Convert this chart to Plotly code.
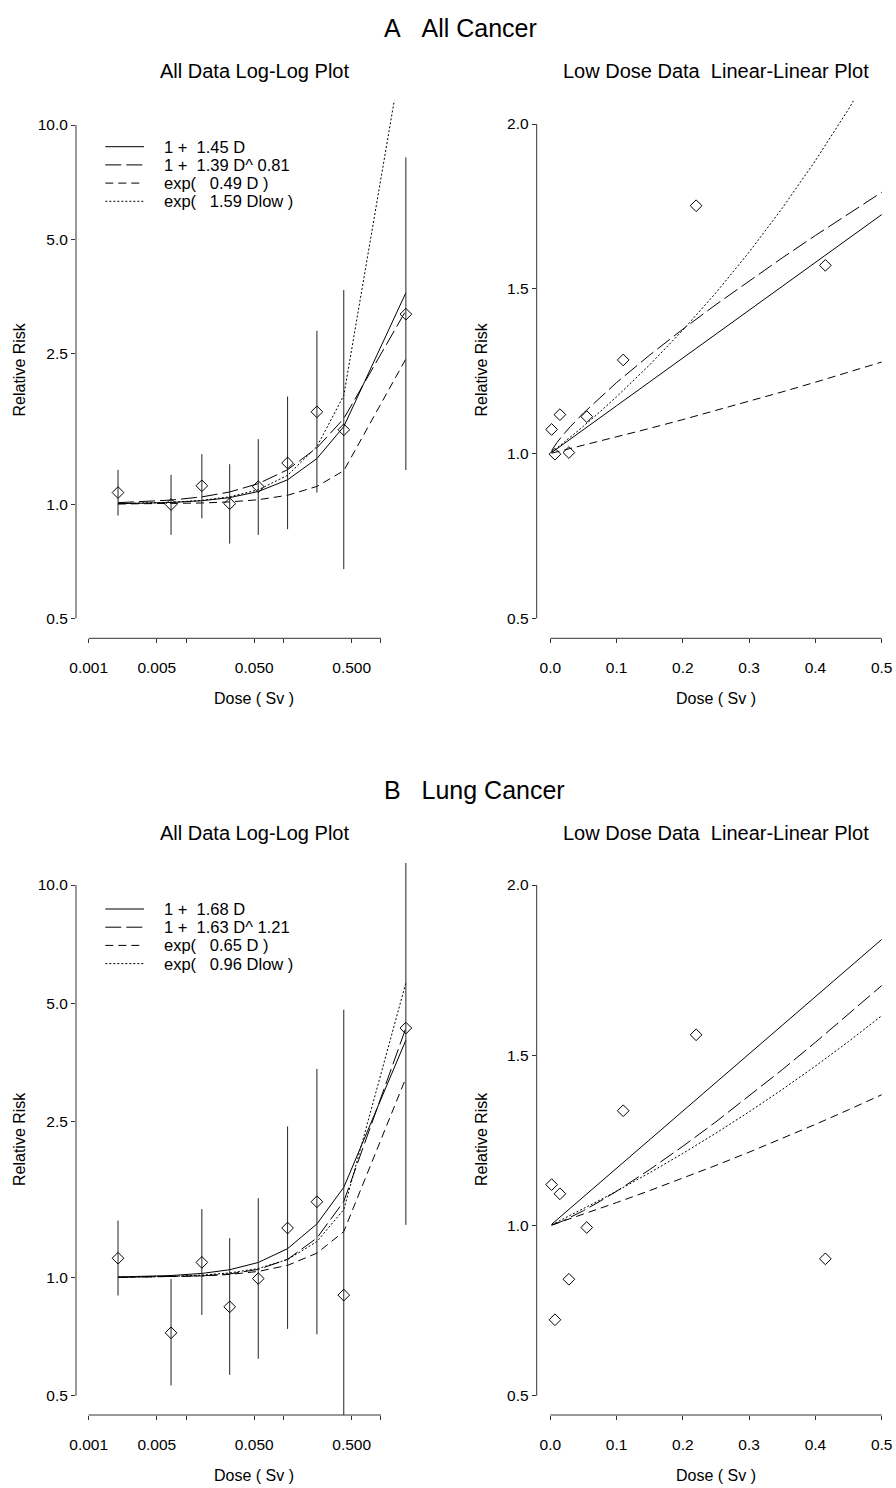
import math
import plotly.graph_objects as go

# ---------------- data ----------------
dose = [0.002, 0.007, 0.0145, 0.028, 0.055, 0.11, 0.22, 0.415, 1.8]

a_rr = [1.073, 0.998, 1.118, 1.003, 1.112, 1.284, 1.752, 1.571, 3.17]
a_lo = [0.933, 0.830, 0.918, 0.787, 0.830, 0.859, 1.073, 0.674, 1.23]
a_hi = [1.232, 1.195, 1.355, 1.275, 1.484, 1.923, 2.866, 3.67, 8.21]

b_rr = [1.12, 0.723, 1.093, 0.842, 0.994, 1.337, 1.56, 0.902, 4.32]
b_lo = [0.900, 0.531, 0.803, 0.565, 0.621, 0.740, 0.717, 0.40, 1.362]
b_hi = [1.397, 0.991, 1.494, 1.26, 1.593, 2.425, 3.40, 4.81, 11.4]

# fitted curves read at the data doses (log-log panels)
a_lin_all = [1.0029, 1.0102, 1.0210, 1.0406, 1.0798, 1.1595, 1.3190, 1.6018, 3.6100]
a_pow_all = [1.0091, 1.0250, 1.0451, 1.0768, 1.1326, 1.2326, 1.4077, 1.6818, 3.2376]
a_exp_all = [1.0010, 1.0034, 1.0071, 1.0138, 1.0273, 1.0554, 1.1138, 1.2255, 2.4157]
a_explow_all = [1.0032, 1.0112, 1.0233, 1.0455, 1.0914, 1.1911, 1.4188, 1.9345, 17.497]

b_lin_all = [1.0034, 1.0118, 1.0244, 1.0470, 1.0924, 1.1848, 1.3696, 1.6972, 4.0240]
b_pow_all = [1.0009, 1.0040, 1.0097, 1.0215, 1.0488, 1.1128, 1.2609, 1.5624, 4.3196]
b_exp_all = [1.0013, 1.0046, 1.0095, 1.0184, 1.0364, 1.0741, 1.1537, 1.3095, 3.2220]
b_explow_all = [1.0019, 1.0067, 1.0140, 1.0273, 1.0542, 1.1113, 1.2350, 1.4895, 5.6295]

# fitted curves over the low-dose range (linear-linear panels)
low_dose = [0.002, 0.005, 0.01, 0.02, 0.03, 0.05, 0.075, 0.1, 0.15, 0.2,
            0.25, 0.3, 0.35, 0.4, 0.45, 0.5]
a_lin_low = [1.0029, 1.0073, 1.0145, 1.029, 1.0435, 1.0725, 1.1088, 1.145, 1.2175,
             1.29, 1.3625, 1.435, 1.5075, 1.58, 1.6525, 1.725]
a_pow_low = [1.0091, 1.0190, 1.0333, 1.0585, 1.0812, 1.1228, 1.1705, 1.2153, 1.2990,
             1.3774, 1.4522, 1.5242, 1.5939, 1.6617, 1.7280, 1.7928]
a_exp_low = [1.0010, 1.0025, 1.0049, 1.0099, 1.0148, 1.0248, 1.0374, 1.0502, 1.0763,
             1.1030, 1.1303, 1.1584, 1.1871, 1.2165, 1.2467, 1.2776]
a_explow_low = [1.0032, 1.0080, 1.0160, 1.0323, 1.0489, 1.0828, 1.1267, 1.1723, 1.2694,
                1.3744, 1.4881, 1.6112, 1.7446, 1.8889, 2.0452, 2.2144]

b_lin_low = [1.0034, 1.0084, 1.0168, 1.0336, 1.0504, 1.084, 1.126, 1.168, 1.252,
             1.336, 1.42, 1.504, 1.588, 1.672, 1.756, 1.84]
b_pow_low = [1.0009, 1.0027, 1.0062, 1.0143, 1.0234, 1.0434, 1.0710, 1.1005, 1.1642,
             1.2325, 1.3046, 1.3798, 1.4576, 1.5379, 1.6203, 1.7046]
b_exp_low = [1.0013, 1.0033, 1.0065, 1.0131, 1.0197, 1.0330, 1.0500, 1.0672, 1.1024,
             1.1388, 1.1765, 1.2153, 1.2555, 1.2969, 1.3398, 1.3840]
b_explow_low = [1.0019, 1.0048, 1.0097, 1.0194, 1.0292, 1.0492, 1.0747, 1.1008, 1.1549,
                1.2117, 1.2713, 1.3338, 1.3994, 1.4681, 1.5403, 1.6161]

a_legend = ["1 +  1.45 D", "1 +  1.39 D^ 0.81", "exp(   0.49 D )", "exp(   1.59 Dlow )"]
b_legend = ["1 +  1.68 D", "1 +  1.63 D^ 1.21", "exp(   0.65 D )", "exp(   0.96 Dlow )"]

log_xticks = [0.001, 0.005, 0.01, 0.05, 0.1, 0.5, 1.0]
log_xtext = ["0.001", "0.005", "", "0.050", "", "0.500", ""]
log_yticks = [0.5, 1.0, 2.5, 5.0, 10.0]
log_ytext = ["0.5", "1.0", "2.5", "5.0", "10.0"]
lin_xticks = [0.0, 0.1, 0.2, 0.3, 0.4, 0.5]
lin_xtext = ["0.0", "0.1", "0.2", "0.3", "0.4", "0.5"]
lin_yticks = [0.5, 1.0, 1.5, 2.0]
lin_ytext = ["0.5", "1.0", "1.5", "2.0"]

# ---------------- layout geometry (pixels) ----------------
W, H = 896, 1488
FONT = "Liberation Sans, Arial, Helvetica, sans-serif"
INK = "black"
AXC = "#333333"

def px(x):
    return x / W

def py(y):
    return 1 - y / H

L_LEFT, L_RIGHT = 76.0, 432.0          # log-log panel region
R_LEFT, R_RIGHT = 536.7, 896.0         # linear panel region
X_LOG_0001, X_LOG_PER_DEC = 88.7, 97.43
X_LIN_0, X_LIN_PER_UNIT = 550.3, 662.8

panels = {
    "A": dict(top=100.7, bottom=638.3, y10=125.0, y05l=618.3, y2=124.0, y05r=618.3),
    "B": dict(top=863.0, bottom=1415.0, y10=885.0, y05l=1395.7, y2=885.0, y05r=1395.7),
}

dash_styles = ["solid", "16px,5px", "8px,5px", "2px,2px"]

fig = go.Figure()

def add_panel(xl, yl, xr, yr, rr, lo, hi, all_curves, low_curves):
    # log-log panel
    for ys, dsh in zip(all_curves, dash_styles):
        fig.add_trace(go.Scatter(x=dose, y=ys, mode="lines", xaxis=xl, yaxis=yl,
                                 line=dict(color=INK, width=1, dash=dsh),
                                 showlegend=False, hoverinfo="skip"))
    fig.add_trace(go.Scatter(
        x=dose, y=rr, mode="markers", xaxis=xl, yaxis=yl, showlegend=False,
        marker=dict(symbol="diamond-open", size=9, color=INK, line=dict(width=1, color=INK)),
        error_y=dict(type="data", symmetric=False,
                     array=[h - r for h, r in zip(hi, rr)],
                     arrayminus=[r - l for r, l in zip(rr, lo)],
                     width=0, thickness=1, color="#222222")))
    # linear-linear panel
    for ys, dsh in zip(low_curves, dash_styles):
        fig.add_trace(go.Scatter(x=low_dose, y=ys, mode="lines", xaxis=xr, yaxis=yr,
                                 line=dict(color=INK, width=1, dash=dsh),
                                 showlegend=False, hoverinfo="skip"))
    n_low = sum(1 for d in dose if d <= 0.5)
    fig.add_trace(go.Scatter(
        x=dose[:n_low], y=rr[:n_low], mode="markers", xaxis=xr, yaxis=yr, showlegend=False,
        marker=dict(symbol="diamond-open", size=9, color=INK, line=dict(width=1, color=INK))))

add_panel("x", "y", "x2", "y2", a_rr, a_lo, a_hi,
          [a_lin_all, a_pow_all, a_exp_all, a_explow_all],
          [a_lin_low, a_pow_low, a_exp_low, a_explow_low])
add_panel("x3", "y3", "x4", "y4", b_rr, b_lo, b_hi,
          [b_lin_all, b_pow_all, b_exp_all, b_explow_all],
          [b_lin_low, b_pow_low, b_exp_low, b_explow_low])

tick_font = dict(family=FONT, size=15.5, color=INK)
common = dict(showgrid=False, zeroline=False, showline=False, ticks="outside",
              ticklen=4, tickwidth=1, tickcolor=AXC, tickfont=tick_font,
              automargin=False)

log_xrange = [-3 - (X_LOG_0001 - L_LEFT) / X_LOG_PER_DEC,
              -3 + (L_RIGHT - X_LOG_0001) / X_LOG_PER_DEC]
lin_xrange = [(R_LEFT - X_LIN_0) / X_LIN_PER_UNIT, (R_RIGHT - X_LIN_0) / X_LIN_PER_UNIT]

layout = dict(width=W, height=H,
              margin=dict(l=0, r=0, t=0, b=0, pad=0, autoexpand=False),
              paper_bgcolor="white", plot_bgcolor="white", showlegend=False,
              font=dict(family=FONT, color=INK))

shapes = []
annotations = []
for letter, (xl, yl, xr, yr), legend_txt in [("A", ("x", "y", "x2", "y2"), a_legend),
                                             ("B", ("x3", "y3", "x4", "y4"), b_legend)]:
    g = panels[letter]
    ydom = [py(g["bottom"]), py(g["top"])]
    ppd = (g["y05l"] - g["y10"]) / (1 - math.log10(0.5))
    log_yrange = [math.log10(0.5) - (g["bottom"] - g["y05l"]) / ppd,
                  1 + (g["y10"] - g["top"]) / ppd]
    ppu = (g["y05r"] - g["y2"]) / 1.5
    lin_yrange = [0.5 - (g["bottom"] - g["y05r"]) / ppu, 2 + (g["y2"] - g["top"]) / ppu]

    kx = "xaxis" + ("" if xl == "x" else xl[1:])
    ky = "yaxis" + ("" if yl == "y" else yl[1:])
    kx2 = "xaxis" + xr[1:]
    ky2 = "yaxis" + yr[1:]
    layout[kx] = dict(common, type="log", domain=[px(L_LEFT), px(L_RIGHT)], range=log_xrange,
                      anchor=yl, tickvals=log_xticks, ticktext=log_xtext, ticklabelstandoff=11)
    layout[ky] = dict(common, type="log", domain=ydom, range=log_yrange, anchor=xl,
                      tickvals=log_yticks, ticktext=log_ytext)
    layout[kx2] = dict(common, type="linear", domain=[px(R_LEFT), px(R_RIGHT)], range=lin_xrange,
                       anchor=yr, tickvals=lin_xticks, ticktext=lin_xtext, ticklabelstandoff=11)
    layout[ky2] = dict(common, type="linear", domain=ydom, range=lin_yrange, anchor=xr,
                       tickvals=lin_yticks, ticktext=lin_ytext)

    # range-frame axis lines (span only the tick range)
    line = dict(color=AXC, width=1)
    shapes += [
        dict(type="line", xref=xl, yref=yl + " domain", x0=log_xticks[0], x1=log_xticks[-1],
             y0=0, y1=0, line=line),
        dict(type="line", xref=xl + " domain", yref=yl, x0=0, x1=0,
             y0=log_yticks[0], y1=log_yticks[-1], line=line),
        dict(type="line", xref=xr, yref=yr + " domain", x0=lin_xticks[0], x1=lin_xticks[-1],
             y0=0, y1=0, line=line),
        dict(type="line", xref=xr + " domain", yref=yr, x0=0, x1=0,
             y0=lin_yticks[0], y1=lin_yticks[-1], line=line),
    ]

    # legend in the log-log panel
    for i, (txt, dsh) in enumerate(zip(legend_txt, dash_styles)):
        yy = g["top"] + 46 + i * 18.2
        shapes.append(dict(type="line", xref="paper", yref="paper", x0=px(105.3), x1=px(144),
                           y0=py(yy), y1=py(yy), line=dict(color=INK, width=1, dash=dsh)))
        annotations.append(dict(xref="paper", yref="paper", x=px(162), y=py(yy),
                                xanchor="left", yanchor="middle", showarrow=False,
                                text=txt.replace(" ", "\u00a0"),
                                font=dict(family=FONT, size=16.5, color=INK)))

    # titles
    off = g["top"] - panels["A"]["top"]
    main = {"A": "A   All Cancer", "B": "B   Lung Cancer"}[letter]
    annotations.append(dict(xref="paper", yref="paper", x=px(381.5), y=py(28 + off),
                            xanchor="left", yanchor="middle", showarrow=False,
                            text=main.replace(" ", "\u00a0"),
                            font=dict(family=FONT, size=25, color=INK)))
    annotations.append(dict(xref="paper", yref="paper", x=px((L_LEFT + L_RIGHT) / 2), y=py(71 + off),
                            xanchor="center", yanchor="middle", showarrow=False,
                            text="All Data Log-Log Plot",
                            font=dict(family=FONT, size=20, color=INK)))
    annotations.append(dict(xref="paper", yref="paper", x=px(716), y=py(71 + off),
                            xanchor="center", yanchor="middle", showarrow=False,
                            text="Low Dose Data\u00a0\u00a0Linear-Linear Plot",
                            font=dict(family=FONT, size=20, color=INK)))
    ymid = (g["top"] + g["bottom"]) / 2
    for xc in (19, 481):
        annotations.append(dict(xref="paper", yref="paper", x=px(xc), y=py(ymid),
                                xanchor="center", yanchor="middle", showarrow=False,
                                textangle=-90, text="Relative Risk",
                                font=dict(family=FONT, size=16, color=INK)))
    for xc in ((L_LEFT + L_RIGHT) / 2, 716):
        annotations.append(dict(xref="paper", yref="paper", x=px(xc), y=py(g["bottom"] + 60),
                                xanchor="center", yanchor="middle", showarrow=False,
                                text="Dose ( Sv )".replace(" ", "\u00a0"),
                                font=dict(family=FONT, size=16, color=INK)))

layout["shapes"] = shapes
layout["annotations"] = annotations
fig.update_layout(**layout)
fig.write_html("out.html")
